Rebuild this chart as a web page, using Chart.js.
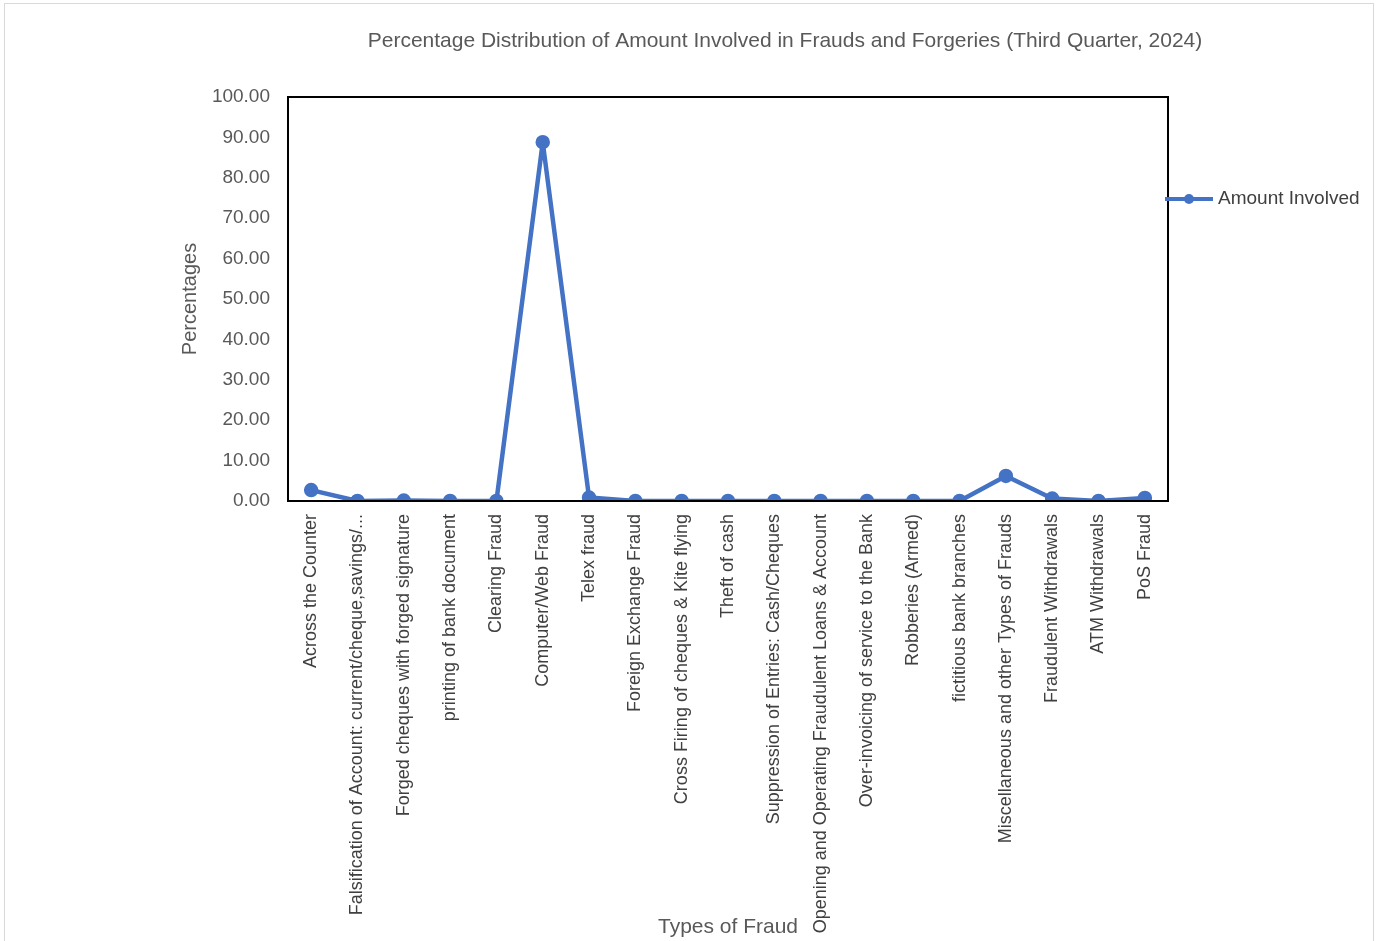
<!DOCTYPE html>
<html>
<head>
<meta charset="utf-8">
<script src="https://cdn.jsdelivr.net/npm/chart.js@4"></script>
<style>
  html, body { margin: 0; padding: 0; background: #fff; }
  #wrap { position: relative; width: 1379px; height: 941px; }
</style>
</head>
<body>
<div id="wrap"><canvas id="chart" width="1379" height="941"></canvas></div>
<script>
const categories = [
  'Across the Counter',
  'Falsification of Account: current/cheque,savings/...',
  'Forged cheques with forged signature',
  'printing of bank document',
  'Clearing Fraud',
  'Computer/Web Fraud',
  'Telex fraud',
  'Foreign Exchange Fraud',
  'Cross Firing of cheques & Kite flying',
  'Theft of cash',
  'Suppression of Entries: Cash/Cheques',
  'Opening and Operating Fraudulent Loans & Account',
  'Over-invoicing of service to the Bank',
  'Robberies (Armed)',
  'fictitious bank branches',
  'Miscellaneous and other Types of Frauds',
  'Fraudulent Withdrawals',
  'ATM Withdrawals',
  'PoS Fraud'
];
const amountInvolved = [2.7, 0.0, 0.1, 0.0, 0.0, 88.8, 0.85, 0.0, 0.0, 0.0, 0.0, 0.0, 0.0, 0.0, 0.0, 6.2, 0.6, 0.0, 0.75];
const seriesName = 'Amount Involved';
const chartTitle = 'Percentage Distribution of Amount Involved in Frauds and Forgeries (Third Quarter, 2024)';

const lineColor = '#4472C4';
const fontFamily = '"Liberation Sans", Arial, sans-serif';

const decorations = {
  id: 'decorations',
  beforeDraw(chart) {
    const ctx = chart.ctx;
    ctx.save();
    ctx.strokeStyle = '#d9d9d9';
    ctx.lineWidth = 1;
    ctx.strokeRect(4.5, 3.5, 1369, 940);
    ctx.restore();
  },
  afterDraw(chart) {
    const ctx = chart.ctx;
    const a = chart.chartArea;
    ctx.save();
    // plot area frame
    ctx.strokeStyle = '#000';
    ctx.lineWidth = 2;
    ctx.strokeRect(a.left, a.top, a.right - a.left, a.bottom - a.top);

    // title
    ctx.fillStyle = '#595959';
    ctx.font = '21px ' + fontFamily;
    ctx.textAlign = 'center';
    ctx.textBaseline = 'middle';
    ctx.fillText(chartTitle, 785, 41);

    // x axis title
    ctx.font = '21px ' + fontFamily;
    ctx.fillText('Types of Fraud', (a.left + a.right) / 2, 927);

    // legend
    const ly = 199;
    ctx.strokeStyle = lineColor;
    ctx.lineWidth = 4;
    ctx.beginPath();
    ctx.moveTo(1165, ly);
    ctx.lineTo(1213, ly);
    ctx.stroke();
    ctx.fillStyle = lineColor;
    ctx.beginPath();
    ctx.arc(1189, ly, 5, 0, Math.PI * 2);
    ctx.fill();
    ctx.fillStyle = '#404040';
    ctx.font = '19px ' + fontFamily;
    ctx.textAlign = 'left';
    ctx.fillText(seriesName, 1218, ly);
    ctx.restore();
  }
};

new Chart(document.getElementById('chart'), {
  type: 'line',
  data: {
    labels: categories,
    datasets: [{
      label: seriesName,
      data: amountInvolved,
      borderColor: lineColor,
      backgroundColor: lineColor,
      borderWidth: 4.5,
      borderJoinStyle: 'round',
      borderCapStyle: 'round',
      pointRadius: 5,
      pointHoverRadius: 5,
      tension: 0
    }]
  },
  options: {
    responsive: false,
    animation: false,
    layout: {
      padding: { top: 97, right: 211, bottom: 0, left: 178 }
    },
    plugins: {
      title: { display: false },
      legend: { display: false },
      tooltip: { enabled: false }
    },
    scales: {
      x: {
        offset: true,
        grid: { display: false, drawTicks: false },
        border: { display: false },
        ticks: {
          autoSkip: false,
          minRotation: 90,
          maxRotation: 90,
          padding: 13,
          color: '#404040',
          font: { family: fontFamily, size: 18 }
        },
        afterFit(scale) { scale.height = 440; }
      },
      y: {
        min: 0,
        max: 100,
        grid: { display: false, drawTicks: false },
        border: { display: false },
        ticks: {
          stepSize: 10,
          padding: 18,
          color: '#595959',
          font: { family: fontFamily, size: 19 },
          callback: v => v.toFixed(2)
        },
        title: {
          display: true,
          text: 'Percentages',
          color: '#595959',
          font: { family: fontFamily, size: 20 },
          padding: 0
        },
        afterFit(scale) { scale.width = 110; }
      }
    }
  },
  plugins: [decorations]
});
</script>
</body>
</html>
